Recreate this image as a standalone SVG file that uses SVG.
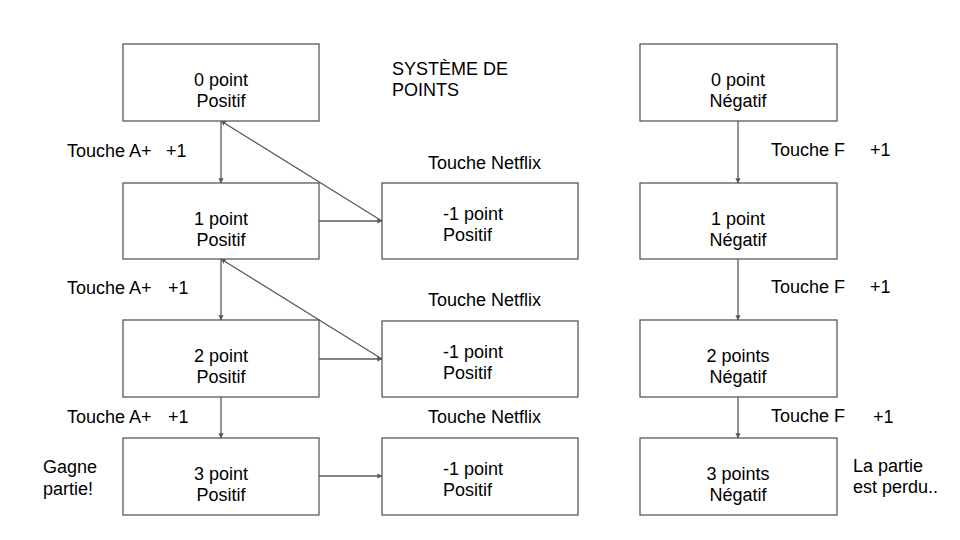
<svg xmlns="http://www.w3.org/2000/svg" width="960" height="540" viewBox="0 0 960 540">
<style>
.box{fill:#ffffff;stroke:#595959;stroke-width:1.3}
.t{font-family:"Liberation Sans",Arial,sans-serif;font-size:18px;fill:#000}
.c{text-anchor:middle}
.e{stroke:#595959;stroke-width:1.3;fill:none;marker-end:url(#ah)}
</style>
<defs>
<marker id="ah" viewBox="0 0 10 10" refX="9" refY="5" markerWidth="4" markerHeight="4" orient="auto" markerUnits="strokeWidth">
<path d="M0,0 L10,5 L0,10 z" fill="#595959"/>
</marker>
</defs>
<rect width="960" height="540" fill="#ffffff"/>
<g id="connectors">
<line class="e" x1="221" y1="121" x2="221" y2="183"/>
<line class="e" x1="221" y1="259" x2="221" y2="320"/>
<line class="e" x1="221" y1="397" x2="221" y2="438"/>
<line class="e" x1="319" y1="221" x2="382" y2="221"/>
<line class="e" x1="319" y1="359" x2="382" y2="359"/>
<line class="e" x1="319" y1="476" x2="382" y2="476"/>
<line class="e" x1="382" y1="221" x2="221" y2="121"/>
<line class="e" x1="382" y1="359" x2="221" y2="259"/>
<line class="e" x1="738" y1="121" x2="738" y2="183"/>
<line class="e" x1="738" y1="259" x2="738" y2="320"/>
<line class="e" x1="738" y1="397" x2="738" y2="438"/>
</g>
<g id="p0"><rect class="box" x="123" y="44" width="196" height="77"/><text class="t c" x="221" y="86">0 point</text><text class="t c" x="221" y="107">Positif</text></g>
<g id="p1"><rect class="box" x="123" y="183" width="196" height="76"/><text class="t c" x="221" y="225">1 point</text><text class="t c" x="221" y="246">Positif</text></g>
<g id="p2"><rect class="box" x="123" y="320" width="196" height="77"/><text class="t c" x="221" y="362">2 point</text><text class="t c" x="221" y="383">Positif</text></g>
<g id="p3"><rect class="box" x="123" y="438" width="196" height="77"/><text class="t c" x="221" y="480">3 point</text><text class="t c" x="221" y="501">Positif</text></g>
<g id="m1"><rect class="box" x="382" y="183" width="196" height="76"/><text class="t" x="443" y="220">-1 point</text><text class="t" x="443" y="241">Positif</text></g>
<g id="m2"><rect class="box" x="382" y="321" width="196" height="76"/><text class="t" x="443" y="358">-1 point</text><text class="t" x="443" y="379">Positif</text></g>
<g id="m3"><rect class="box" x="382" y="438" width="196" height="77"/><text class="t" x="443" y="475">-1 point</text><text class="t" x="443" y="496">Positif</text></g>
<g id="n0"><rect class="box" x="640" y="44" width="197" height="77"/><text class="t c" x="738" y="86">0 point</text><text class="t c" x="738" y="107">Négatif</text></g>
<g id="n1"><rect class="box" x="640" y="183" width="197" height="76"/><text class="t c" x="738" y="225">1 point</text><text class="t c" x="738" y="246">Négatif</text></g>
<g id="n2"><rect class="box" x="640" y="320" width="197" height="77"/><text class="t c" x="738" y="362">2 points</text><text class="t c" x="738" y="383">Négatif</text></g>
<g id="n3"><rect class="box" x="640" y="438" width="197" height="77"/><text class="t c" x="738" y="480">3 points</text><text class="t c" x="738" y="501">Négatif</text></g>
<g id="labels">
<text class="t" x="392" y="75">SYSTÈME DE</text>
<text class="t" x="392" y="96">POINTS</text>
<text class="t" x="67" y="157">Touche A+</text><text class="t" x="166" y="157">+1</text>
<text class="t" x="67" y="294">Touche A+</text><text class="t" x="168" y="294">+1</text>
<text class="t" x="67" y="423">Touche A+</text><text class="t" x="168" y="423">+1</text>
<text class="t" x="428" y="169">Touche Netflix</text>
<text class="t" x="428" y="306">Touche Netflix</text>
<text class="t" x="428" y="423">Touche Netflix</text>
<text class="t" x="771" y="156">Touche F</text><text class="t" x="870" y="156">+1</text>
<text class="t" x="771" y="293">Touche F</text><text class="t" x="870" y="293">+1</text>
<text class="t" x="771" y="422">Touche F</text><text class="t" x="873" y="423">+1</text>
<text class="t" x="43" y="473">Gagne</text>
<text class="t" x="43" y="495">partie!</text>
<text class="t" x="853" y="472">La partie</text>
<text class="t" x="853" y="493">est perdu..</text>
</g>
</svg>
